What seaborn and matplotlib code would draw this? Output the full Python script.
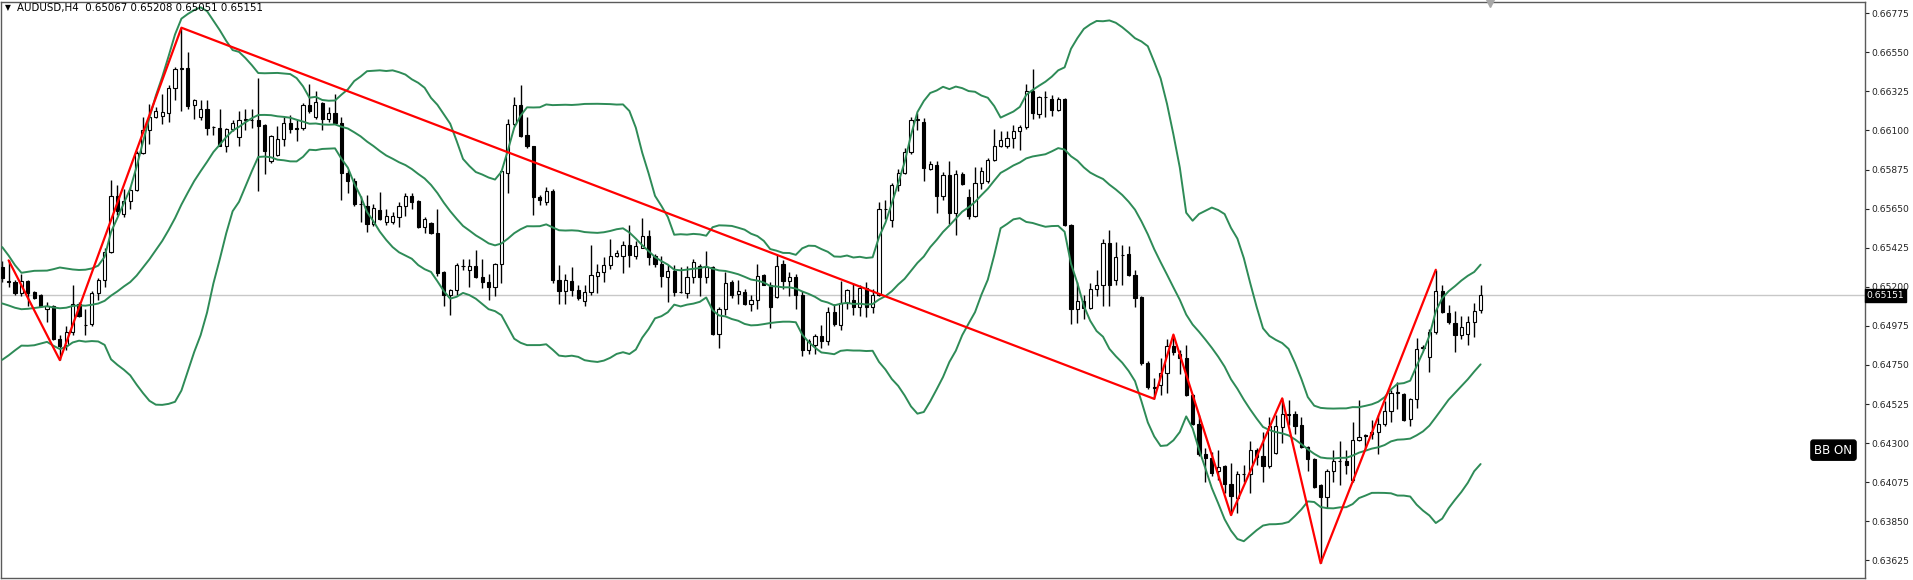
import numpy as np
import pandas as pd
import matplotlib
matplotlib.use("Agg")
import matplotlib.pyplot as plt
import seaborn as sns

sns.set_theme(style="white")
plt.rcParams['font.family'] = ['DejaVu Sans']

symbol = "AUDUSD,H4"

opens = [
0.65315,0.65232,0.65226,0.65166,0.65234,0.65170,0.65151,0.65070,0.65087,0.64899,
0.64863,0.64942,0.65102,0.64982,0.64985,0.65166,0.65241,0.65401,0.65725,0.65618,
0.65693,0.65759,0.65972,0.66100,0.66179,0.66183,0.66200,0.66345,0.66456,0.66458,
0.66247,0.66179,0.66226,0.66121,0.66111,0.66013,0.66109,0.66062,0.66162,0.66158,
0.66158,0.66132,0.65923,0.65959,0.66051,0.66141,0.66111,0.66111,0.66247,0.66179,
0.66260,0.66164,0.66200,0.66143,0.65853,0.65810,0.65676,0.65667,0.65561,0.65644,
0.65575,0.65571,0.65603,0.65663,0.65721,0.65693,0.65546,0.65565,0.65511,0.65283,
0.65151,0.65183,0.65320,0.65298,0.65320,0.65256,0.65230,0.65198,0.65332,0.65855,
0.66136,0.66247,0.66072,0.66008,0.65716,0.65689,0.65753,0.65241,0.65177,0.65236,
0.65181,0.65119,0.65170,0.65262,0.65283,0.65326,0.65379,0.65375,0.65439,0.65379,
0.65426,0.65492,0.65379,0.65330,0.65256,0.65288,0.65170,0.65166,0.65256,0.65322,
0.65256,0.65311,0.64927,0.65070,0.65226,0.65160,0.65170,0.65102,0.65123,0.65266,
0.65213,0.65140,0.65330,0.65234,0.65256,0.65151,0.64835,0.64863,0.64916,0.64889,
0.65055,0.64980,0.65106,0.65123,0.65081,0.65192,0.65081,0.65155,0.65646,0.65582,
0.65785,0.65855,0.65976,0.66162,0.66151,0.65880,0.65902,0.65721,0.65842,0.65625,
0.65848,0.65714,0.65607,0.65795,0.65806,0.65930,0.66013,0.66008,0.66058,0.66094,
0.66122,0.66328,0.66196,0.66290,0.66279,0.66218,0.66279,0.65556,0.65070,0.65119,
0.65076,0.65187,0.65213,0.65454,0.65241,0.65383,0.65388,0.65266,0.65140,0.64761,
0.64622,0.64633,0.64701,0.64857,0.64814,0.64788,0.64579,0.64409,0.64238,0.64217,
0.64142,0.64168,0.64067,0.63982,0.64125,0.64125,0.64259,0.64227,0.64168,0.64244,
0.64394,0.64466,0.64466,0.64402,0.64276,0.64206,0.64057,0.63993,0.64142,0.64198,
0.64200,0.64089,0.64317,0.64345,0.64351,0.64366,0.64409,0.64483,0.64590,0.64584,
0.64441,0.64552,0.64850,0.64797,0.64940,0.65177,0.65049,0.64991,0.64921,0.64931,
0.65000,0.65067]

highs = [
0.65347,0.65352,0.65241,0.65273,0.65241,0.65177,0.65160,0.65113,0.65098,0.64921,
0.64974,0.65209,0.65113,0.65070,0.65177,0.65251,0.65422,0.65817,0.65785,0.65763,
0.65774,0.65981,0.66179,0.66254,0.66232,0.66307,0.66360,0.66467,0.66691,0.66552,
0.66279,0.66275,0.66275,0.66126,0.66222,0.66115,0.66158,0.66211,0.66222,0.66222,
0.66403,0.66136,0.66072,0.66126,0.66179,0.66190,0.66158,0.66260,0.66365,0.66328,
0.66264,0.66232,0.66307,0.66179,0.65870,0.65827,0.65721,0.65731,0.65678,0.65746,
0.65646,0.65631,0.65689,0.65742,0.65742,0.65699,0.65603,0.65571,0.65646,0.65288,
0.65187,0.65337,0.65358,0.65358,0.65411,0.65358,0.65273,0.65337,0.65870,0.66168,
0.66292,0.66360,0.66179,0.66013,0.65731,0.65774,0.65763,0.65326,0.65273,0.65315,
0.65209,0.65209,0.65443,0.65332,0.65369,0.65475,0.65411,0.65465,0.65554,0.65465,
0.65593,0.65529,0.65390,0.65379,0.65326,0.65326,0.65315,0.65320,0.65358,0.65332,
0.65405,0.65320,0.65085,0.65283,0.65241,0.65241,0.65187,0.65155,0.65332,0.65273,
0.65230,0.65383,0.65352,0.65283,0.65273,0.65177,0.64899,0.64931,0.64978,0.65081,
0.65102,0.65236,0.65187,0.65219,0.65209,0.65230,0.65187,0.65689,0.65699,0.65795,
0.65880,0.65998,0.66179,0.66200,0.66173,0.65923,0.65923,0.65859,0.65923,0.65870,
0.65859,0.65763,0.65891,0.65891,0.65944,0.66109,0.66094,0.66094,0.66130,0.66130,
0.66365,0.66456,0.66296,0.66328,0.66301,0.66292,0.66284,0.65561,0.65230,0.65155,
0.65219,0.65294,0.65475,0.65529,0.65460,0.65439,0.65433,0.65298,0.65145,0.64771,
0.64675,0.64793,0.64899,0.64925,0.64835,0.64867,0.64584,0.64462,0.64270,0.64249,
0.64259,0.64174,0.64185,0.64142,0.64174,0.64313,0.64270,0.64366,0.64451,0.64462,
0.64558,0.64547,0.64483,0.64451,0.64281,0.64217,0.64067,0.64153,0.64259,0.64313,
0.64259,0.64424,0.64547,0.64355,0.64434,0.64462,0.64543,0.64607,0.64654,0.64590,
0.64558,0.64906,0.64867,0.64957,0.65298,0.65209,0.65098,0.65059,0.65034,0.65032,
0.65106,0.65208]

lows = [
0.65230,0.65198,0.65155,0.65145,0.65091,0.65128,0.65081,0.64995,0.64893,0.64778,
0.64835,0.64921,0.65027,0.64921,0.64974,0.65123,0.65198,0.65397,0.65614,0.65603,
0.65646,0.65753,0.65966,0.66019,0.66173,0.66136,0.66147,0.66275,0.66211,0.66222,
0.66168,0.66158,0.66072,0.66072,0.66008,0.65976,0.66094,0.66008,0.66104,0.66115,
0.65753,0.65848,0.65912,0.65955,0.66008,0.66083,0.66040,0.66104,0.66200,0.66168,
0.66104,0.66147,0.66136,0.65699,0.65742,0.65667,0.65571,0.65518,0.65550,0.65582,
0.65554,0.65561,0.65546,0.65607,0.65646,0.65539,0.65507,0.65501,0.65262,0.65091,
0.65038,0.65155,0.65294,0.65198,0.65251,0.65192,0.65123,0.65145,0.65219,0.65742,
0.66126,0.66062,0.65998,0.65614,0.65671,0.65671,0.65219,0.65102,0.65102,0.65145,
0.65123,0.65091,0.65155,0.65166,0.65230,0.65305,0.65369,0.65277,0.65315,0.65358,
0.65422,0.65326,0.65315,0.65198,0.65113,0.65145,0.65166,0.65134,0.65219,0.65145,
0.65219,0.64921,0.64846,0.65038,0.65134,0.65102,0.65098,0.65059,0.65070,0.65209,
0.64963,0.65134,0.65187,0.65145,0.65070,0.64803,0.64814,0.64814,0.64846,0.64867,
0.64974,0.64953,0.65070,0.65038,0.65034,0.65027,0.65049,0.65145,0.65592,0.65543,
0.65753,0.65848,0.65966,0.66100,0.65806,0.65870,0.65625,0.65699,0.65561,0.65497,
0.65785,0.65592,0.65603,0.65763,0.65795,0.65923,0.66002,0.65998,0.65998,0.65987,
0.66109,0.66168,0.66173,0.66179,0.66185,0.66211,0.65550,0.64985,0.64991,0.65017,
0.65070,0.65145,0.65091,0.65091,0.65209,0.65209,0.65262,0.65085,0.64750,0.64611,
0.64555,0.64579,0.64590,0.64808,0.64697,0.64573,0.64402,0.64227,0.64078,0.64110,
0.64089,0.64014,0.63886,0.63897,0.64078,0.64014,0.64174,0.64078,0.64159,0.64238,
0.64302,0.64402,0.64355,0.64270,0.64142,0.64040,0.63609,0.63929,0.64078,0.64057,
0.64121,0.64078,0.64313,0.64270,0.64323,0.64238,0.64398,0.64419,0.64494,0.64430,
0.64398,0.64500,0.64835,0.64712,0.64931,0.65049,0.64985,0.64825,0.64899,0.64863,
0.64910,0.65051]

closes = [
0.65251,0.65228,0.65166,0.65234,0.65166,0.65138,0.65087,0.65091,0.64899,0.64857,
0.64942,0.65102,0.65034,0.64980,0.65166,0.65241,0.65401,0.65725,0.65635,0.65693,
0.65759,0.65972,0.66100,0.66179,0.66211,0.66205,0.66345,0.66456,0.66458,0.66239,
0.66275,0.66226,0.66111,0.66119,0.66013,0.66109,0.66143,0.66162,0.66164,0.66160,
0.66126,0.65983,0.66068,0.66051,0.66143,0.66109,0.66109,0.66249,0.66211,0.66264,
0.66164,0.66200,0.66141,0.65853,0.65810,0.65674,0.65674,0.65561,0.65652,0.65588,
0.65610,0.65610,0.65663,0.65725,0.65686,0.65543,0.65588,0.65507,0.65277,0.65155,
0.65183,0.65324,0.65322,0.65320,0.65256,0.65230,0.65198,0.65332,0.65866,0.66136,
0.66247,0.66068,0.66008,0.65716,0.65699,0.65753,0.65241,0.65177,0.65241,0.65181,
0.65138,0.65170,0.65266,0.65283,0.65326,0.65379,0.65396,0.65439,0.65383,0.65433,
0.65492,0.65373,0.65330,0.65262,0.65288,0.65170,0.65168,0.65256,0.65343,0.65256,
0.65311,0.64927,0.65070,0.65219,0.65151,0.65177,0.65102,0.65123,0.65262,0.65213,
0.65085,0.65322,0.65236,0.65256,0.65151,0.64835,0.64889,0.64916,0.64889,0.65055,
0.64985,0.65106,0.65181,0.65081,0.65192,0.65081,0.65155,0.65646,0.65648,0.65785,
0.65855,0.65976,0.66162,0.66164,0.65885,0.65906,0.65721,0.65842,0.65625,0.65848,
0.65789,0.65607,0.65795,0.65866,0.65930,0.66013,0.66045,0.66058,0.66094,0.66122,
0.66328,0.66200,0.66290,0.66292,0.66218,0.66279,0.65556,0.65070,0.65119,0.65076,
0.65187,0.65213,0.65454,0.65213,0.65373,0.65385,0.65266,0.65138,0.64761,0.64622,
0.64620,0.64701,0.64857,0.64825,0.64788,0.64579,0.64409,0.64238,0.64217,0.64131,
0.64163,0.64067,0.63997,0.64121,0.64123,0.64259,0.64223,0.64168,0.64398,0.64398,
0.64466,0.64464,0.64398,0.64276,0.64206,0.64050,0.63993,0.64142,0.64195,0.64200,
0.64174,0.64317,0.64338,0.64343,0.64366,0.64409,0.64483,0.64590,0.64592,0.64436,
0.64552,0.64842,0.64852,0.64942,0.65177,0.65055,0.64995,0.64921,0.64970,0.65000,
0.65059,0.65151]

# closes of the 19 bars before the visible window (feed the first Bollinger values)
prior_closes = [0.65460,0.65430,0.65400,0.65120,0.65050,0.64980,0.64990,0.65040,
                0.64950,0.64880,0.64900,0.64960,0.65020,0.65060,0.65100,0.65090,
                0.65130,0.65140,0.65130]

bb_period = 20
bb_deviation = 2

# ZigZag turning points: bar index and whether it is a high or a low
zz_index = [1, 9, 28, 180, 183, 192, 200, 206, 224]
zz_kind = ['H', 'L', 'H', 'L', 'H', 'L', 'H', 'L', 'H']

y_ticks = [0.66775, 0.66550, 0.66325, 0.66100, 0.65875, 0.65650, 0.65425, 0.65200,
           0.64975, 0.64750, 0.64525, 0.64300, 0.64075, 0.63850, 0.63625]

badge_text = "BB ON"

# ---------------------------------------------------------------------------
W, H = 1913, 580
AX_W = 1864
fig = plt.figure(figsize=(W / 100, H / 100), dpi=100)
fig.patch.set_facecolor("white")
ax = fig.add_axes([0.5 / W, 2 / H, AX_W / W, 576 / H])
ax.set_facecolor("white")

n = len(closes)
x = np.arange(n)
o = np.array(opens); h = np.array(highs); l = np.array(lows); c = np.array(closes)

# Bollinger bands
allc = pd.Series(prior_closes + closes)
mid = allc.rolling(bb_period).mean()
sd = allc.rolling(bb_period).std(ddof=0)
mid = mid.iloc[-n:].to_numpy()
sd = sd.iloc[-n:].to_numpy()
bands = pd.DataFrame({
    "bar": np.concatenate([x, x, x]),
    "value": np.concatenate([mid + bb_deviation * sd, mid, mid - bb_deviation * sd]),
    "band": ["upper"] * n + ["middle"] * n + ["lower"] * n,
})

# last price line
ax.axhline(c[-1], color="#c8c8c8", lw=1.0, zorder=1)

# candles
ax.vlines(x, l, h, color="black", lw=1.0, zorder=2)
bull = c >= o
body_bottom = np.minimum(o, c)
body_h = np.maximum(np.abs(c - o), 0.000015)
ax.bar(x[bull], body_h[bull], bottom=body_bottom[bull], width=0.48,
       color="white", edgecolor="black", linewidth=0.8, zorder=3)
ax.bar(x[~bull], body_h[~bull], bottom=body_bottom[~bull], width=0.48,
       color="black", edgecolor="black", linewidth=0.8, zorder=3)

# bands via seaborn
sns.lineplot(data=bands, x="bar", y="value", units="band", estimator=None,
             color="#2e8b57", lw=1.4, ax=ax, zorder=4, legend=False)

# zigzag
zz_price = [h[i] if k == 'H' else l[i] for i, k in zip(zz_index, zz_kind)]
zz = pd.DataFrame({"bar": zz_index, "price": zz_price})
sns.lineplot(data=zz, x="bar", y="price", sort=False, estimator=None,
             color="#ff0000", lw=1.6, ax=ax, zorder=5)

ax.set_xlim(-0.27, (AX_W - 1.7) / 6.4)
ax.set_ylim(0.63524, 0.66839)
ax.set_xlabel(""); ax.set_ylabel("")
ax.set_xticks([])
ax.yaxis.tick_right()
ax.set_yticks(y_ticks)
ax.set_yticklabels([f"{v:.5f}" for v in y_ticks])
ax.tick_params(axis="y", which="both", direction="out", length=3, width=0.8,
               colors="#222222", labelsize=6.6, pad=2, right=True, left=False)
for s in ax.spines.values():
    s.set_visible(True)
    s.set_color("#5a5a5a")
    s.set_linewidth(1.0)

# current price tag on the axis
ax.text(1.0012, c[-1], f"{c[-1]:.5f}", transform=ax.get_yaxis_transform(),
        ha="left", va="center", color="white", fontsize=6.6, zorder=10,
        bbox=dict(boxstyle="square,pad=0.2", fc="black", ec="black"), clip_on=False)

# BB ON badge
ax.text(1833 / AX_W, 0.222, badge_text, transform=ax.transAxes, ha="center", va="center",
        color="white", fontsize=8.6,
        bbox=dict(boxstyle="round,pad=0.3,rounding_size=0.2", fc="black", ec="black"))

# header
fig.text(5 / W, 1 - 8 / H, "\u25bc", fontsize=5.5, color="black", ha="left", va="center")
fig.text(17 / W, 1 - 8 / H,
         f"{symbol}  {o[-1]:.5f} {h[-1]:.5f} {l[-1]:.5f} {c[-1]:.5f}",
         fontsize=7.4, color="black", ha="left", va="center")

# chart-shift marker at the top
ax.plot([n + 0.5], [1.0], marker="v", color="#a8a8a8", markersize=7,
        transform=ax.get_xaxis_transform(), clip_on=False, zorder=10)

fig.savefig("out.png", dpi=100, facecolor="white")
